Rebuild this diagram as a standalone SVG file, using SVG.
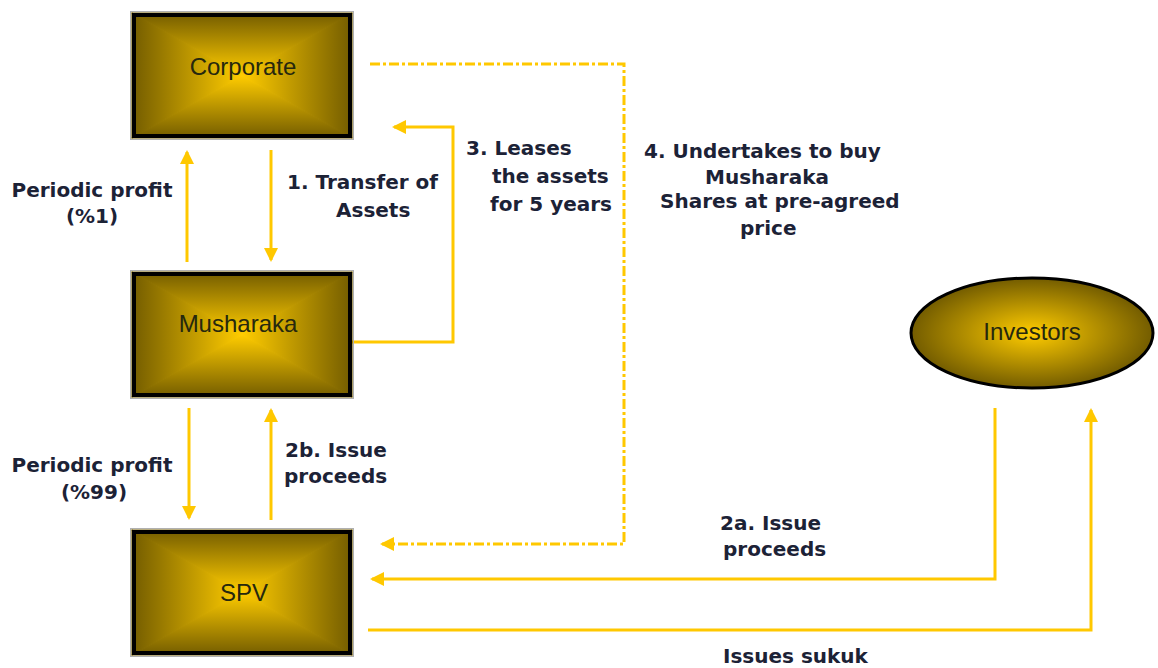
<svg xmlns="http://www.w3.org/2000/svg" width="1158" height="668" viewBox="0 0 1158 668">
  <style>
    .lbl { font-family: "DejaVu Sans", Verdana, sans-serif; font-weight: bold; font-size: 20px; fill: #1c2236; }
    .node-t { font-family: "Liberation Sans", Arial, sans-serif; font-size: 24px; fill: #26280e; text-anchor: middle; }
    .flow { fill: none; stroke: #FFC800; stroke-width: 3; }
    .dashed { stroke-dasharray: 10 3 3 3; }
    .edge { fill: none; stroke: #000; stroke-width: 4; }
    .halo { fill: none; stroke: #b0b0b0; stroke-width: 1; }
  </style>
  <defs>
    <linearGradient id="gT" x1="0" y1="0" x2="0" y2="1"><stop offset="0" stop-color="#735c00"/><stop offset="1" stop-color="#FFCC00"/></linearGradient>
    <linearGradient id="gB" x1="0" y1="1" x2="0" y2="0"><stop offset="0" stop-color="#735c00"/><stop offset="1" stop-color="#FFCC00"/></linearGradient>
    <linearGradient id="gL" x1="0" y1="0" x2="1" y2="0"><stop offset="0" stop-color="#735c00"/><stop offset="1" stop-color="#FFCC00"/></linearGradient>
    <linearGradient id="gR" x1="1" y1="0" x2="0" y2="0"><stop offset="0" stop-color="#735c00"/><stop offset="1" stop-color="#FFCC00"/></linearGradient>
    <radialGradient id="gE" cx="0.5" cy="0.5" r="0.5"><stop offset="0" stop-color="#FFCC00"/><stop offset="1" stop-color="#735c00"/></radialGradient>
    <marker id="ah" markerUnits="userSpaceOnUse" markerWidth="14" markerHeight="14" refX="12" refY="7" orient="auto">
      <path d="M0,0 L14,7 L0,14 Z" fill="#FFC800"/>
    </marker>
    <!-- box body with a rectangular (pyramid) shading, 220 x 125;
         each facet is stroked in its own gradient to close the seams -->
    <g id="boxFill" stroke-width="1.2" stroke-linejoin="round">
      <polygon points="0,0 220,0 110,62.5" fill="url(#gT)" stroke="url(#gT)"/>
      <polygon points="0,125 220,125 110,62.5" fill="url(#gB)" stroke="url(#gB)"/>
      <polygon points="0,0 0,125 110,62.5" fill="url(#gL)" stroke="url(#gL)"/>
      <polygon points="220,0 220,125 110,62.5" fill="url(#gR)" stroke="url(#gR)"/>
    </g>
  </defs>

  <rect width="1158" height="668" fill="#fff"/>

  <g id="connectors">
    <!-- 4. undertaking: Corporate to SPV (dash-dot) -->
    <path class="flow dashed" d="M370,64 H624 V544 H382" marker-end="url(#ah)"/>
    <!-- 3. lease: Musharaka back to Corporate -->
    <path class="flow" d="M352,342 H453 V127 H394" marker-end="url(#ah)"/>
    <!-- periodic profit 1% up to Corporate -->
    <path class="flow" d="M187,262 V152" marker-end="url(#ah)"/>
    <!-- 1. transfer of assets down to Musharaka -->
    <path class="flow" d="M271,150 V260" marker-end="url(#ah)"/>
    <!-- periodic profit 99% down to SPV -->
    <path class="flow" d="M189,408 V518" marker-end="url(#ah)"/>
    <!-- 2b. issue proceeds up to Musharaka -->
    <path class="flow" d="M271,520 V410" marker-end="url(#ah)"/>
    <!-- 2a. issue proceeds: Investors to SPV -->
    <path class="flow" d="M995,408 V579 H372" marker-end="url(#ah)"/>
    <!-- issues sukuk: SPV to Investors -->
    <path class="flow" d="M368,630 H1091 V410" marker-end="url(#ah)"/>
  </g>

  <g id="corporate">
    <use href="#boxFill" x="132" y="13"/>
    <rect class="halo" x="130.5" y="11.5" width="223" height="128"/>
    <rect class="edge" x="134" y="15" width="216" height="121"/>
    <text class="node-t" x="243" y="75">Corporate</text>
  </g>

  <g id="musharaka">
    <use href="#boxFill" x="132" y="272"/>
    <rect class="halo" x="130.5" y="270.5" width="223" height="128"/>
    <rect class="edge" x="134" y="274" width="216" height="121"/>
    <text class="node-t" x="238" y="332">Musharaka</text>
  </g>

  <g id="spv">
    <use href="#boxFill" x="132" y="530"/>
    <rect class="halo" x="130.5" y="528.5" width="223" height="128"/>
    <rect class="edge" x="134" y="532" width="216" height="121"/>
    <text class="node-t" x="244" y="601">SPV</text>
  </g>

  <g id="investors">
    <ellipse cx="1032" cy="333" rx="121" ry="55" fill="url(#gE)" stroke="#000" stroke-width="3"/>
    <text class="node-t" x="1032" y="340">Investors</text>
  </g>

  <g id="labels">
    <text class="lbl" text-anchor="middle" x="92" y="197">Periodic profit</text>
    <text class="lbl" text-anchor="middle" x="92" y="223">(%1)</text>

    <text class="lbl" x="287" y="189">1. Transfer of</text>
    <text class="lbl" x="336" y="217">Assets</text>

    <text class="lbl" x="466" y="155">3. Leases</text>
    <text class="lbl" x="492" y="183">the assets</text>
    <text class="lbl" x="490" y="211">for 5 years</text>

    <text class="lbl" x="644" y="158">4. Undertakes to buy</text>
    <text class="lbl" x="705" y="184">Musharaka</text>
    <text class="lbl" x="660" y="208">Shares at pre-agreed</text>
    <text class="lbl" x="740" y="235">price</text>

    <text class="lbl" text-anchor="middle" x="92" y="472">Periodic profit</text>
    <text class="lbl" text-anchor="middle" x="94" y="499">(%99)</text>

    <text class="lbl" x="285" y="457">2b. Issue</text>
    <text class="lbl" x="284" y="483">proceeds</text>

    <text class="lbl" x="720" y="530">2a. Issue</text>
    <text class="lbl" x="723" y="556">proceeds</text>

    <text class="lbl" x="723" y="663">Issues sukuk</text>
  </g>
</svg>
